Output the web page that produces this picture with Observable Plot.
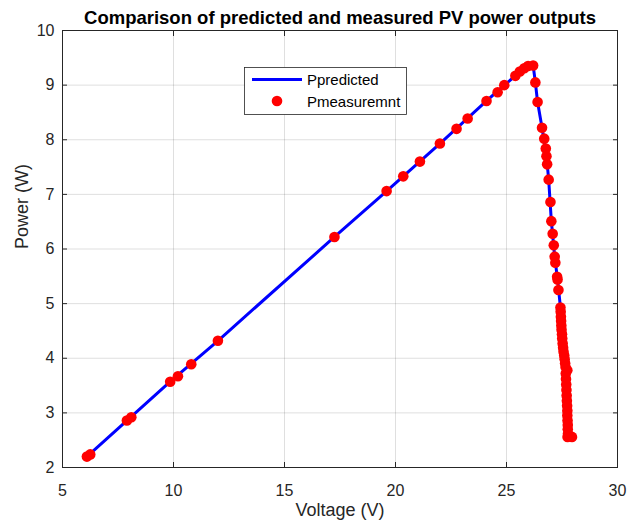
<!DOCTYPE html>
<html>
<head>
<meta charset="utf-8">
<script src="https://cdn.jsdelivr.net/npm/d3@7"></script>
<script src="https://cdn.jsdelivr.net/npm/@observablehq/plot@0.6"></script>
<style>
  html, body { margin: 0; padding: 0; background: #fff; }
  #chart { width: 628px; height: 524px; }
  svg { font-family: "Liberation Sans", Arial, Helvetica, sans-serif; }
</style>
</head>
<body>
<div id="chart"></div>
<script>
const titleText = "Comparison of predicted and measured PV power outputs";
const xLabel = "Voltage (V)";
const yLabel = "Power (W)";
const seriesNames = ["Ppredicted", "Pmeasuremnt"];
const xTicks = [5, 10, 15, 20, 25, 30];
const yTicks = [2, 3, 4, 5, 6, 7, 8, 9, 10];

// Predicted curve (blue line)
const predV = [6.10, 7.90, 9.85, 12.00, 17.25, 19.60, 22.00, 24.10, 24.90, 25.40, 25.80, 25.97, 26.20, 26.30, 26.40, 26.60, 26.80, 26.90, 27.02, 27.17, 27.30, 27.43, 27.55, 27.66, 27.70, 27.74, 27.77];
const predP = [2.20, 2.86, 3.57, 4.32, 6.22, 7.06, 7.93, 8.71, 9.00, 9.17, 9.31, 9.35, 9.36, 9.05, 8.69, 8.22, 7.70, 7.27, 6.51, 5.86, 5.44, 4.93, 4.19, 3.84, 3.42, 3.04, 2.55];

// Measured points (red dots)
const measV = [6.10, 6.25, 7.90, 8.10, 9.85, 10.20, 10.80, 12.00, 17.25, 19.60, 20.35, 21.10, 22.00, 22.75, 23.25, 24.10, 24.60, 24.90, 25.40, 25.60, 25.80, 25.97, 26.20,
  26.30, 26.40, 26.60, 26.70, 26.77, 26.80, 26.83, 26.90, 26.98, 27.02, 27.08, 27.13, 27.17, 27.20, 27.28, 27.30, 27.34, 27.43,
  27.44, 27.45, 27.46, 27.47, 27.48, 27.50, 27.51, 27.53, 27.55, 27.57, 27.60, 27.62, 27.64, 27.66, 27.74, 27.67, 27.68, 27.69, 27.70, 27.71, 27.72, 27.73, 27.74, 27.74, 27.75, 27.76, 27.76, 27.77, 27.75, 27.95];
const measP = [2.20, 2.24, 2.86, 2.92, 3.57, 3.67, 3.89, 4.32, 6.22, 7.06, 7.33, 7.60, 7.93, 8.20, 8.39, 8.71, 8.87, 9.00, 9.17, 9.25, 9.31, 9.35, 9.36,
  9.05, 8.69, 8.22, 8.02, 7.84, 7.70, 7.55, 7.27, 6.86, 6.51, 6.28, 6.07, 5.86, 5.75, 5.49, 5.44, 5.25, 4.93,
  4.85, 4.76, 4.68, 4.60, 4.52, 4.44, 4.36, 4.27, 4.19, 4.12, 4.05, 3.98, 3.91, 3.84, 3.78, 3.72, 3.62, 3.52, 3.42, 3.32, 3.22, 3.13, 3.04, 2.95, 2.86, 2.78, 2.70, 2.62, 2.56, 2.56];

const predicted = predV.map((v, i) => ({V: v, P: predP[i]}));
const measured = measV.map((v, i) => ({V: v, P: measP[i]}));

const ink = "#262626";
const font = "Liberation Sans, Arial, Helvetica, sans-serif";
const fmt = d => String(d);

const chart = Plot.plot({
  width: 628,
  height: 524,
  marginLeft: 62,
  marginRight: 11,
  marginTop: 30,
  marginBottom: 57,
  style: {fontFamily: font, color: ink, background: "#fff"},
  x: {domain: [5, 30]},
  y: {domain: [2, 10]},
  marks: [
    Plot.gridX(xTicks, {stroke: ink, strokeOpacity: 0.15}),
    Plot.gridY(yTicks, {stroke: ink, strokeOpacity: 0.15}),
    Plot.axisX(xTicks, {anchor: "bottom", tickSize: -5, tickPadding: 22, fontSize: 16, tickFormat: fmt, label: null, stroke: ink, fill: ink}),
    Plot.axisX(xTicks, {anchor: "top", tickSize: -5, tickFormat: () => "", label: null, stroke: ink}),
    Plot.axisY(yTicks, {anchor: "left", tickSize: -5, tickPadding: 13, fontSize: 16, tickFormat: fmt, label: null, stroke: ink, fill: ink}),
    Plot.axisY(yTicks, {anchor: "right", tickSize: -5, tickFormat: () => "", label: null, stroke: ink}),
    Plot.frame({stroke: ink}),
    Plot.line(predicted, {x: "V", y: "P", stroke: "#0000ff", strokeWidth: 3}),
    Plot.dot(measured, {x: "V", y: "P", r: 5.3, fill: "#ff0000", stroke: "none"}),
    Plot.text([titleText], {frameAnchor: "top", dy: -20, fontSize: 18.5, fontWeight: "bold", fill: "#000"}),
    Plot.text([xLabel], {frameAnchor: "bottom", dy: 48, fontSize: 18, fill: ink}),
    Plot.text([yLabel], {frameAnchor: "left", dx: -40, rotate: -90, fontSize: 18, fill: ink})
  ]
});

document.getElementById("chart").appendChild(chart);

// Legend (MATLAB style box)
const svg = d3.select(chart);
const lg = svg.append("g").attr("font-family", font).attr("font-size", 15).attr("text-anchor", "start");
lg.append("rect").attr("x", 244.5).attr("y", 67.5).attr("width", 162).attr("height", 47)
  .attr("fill", "#fff").attr("stroke", ink).attr("stroke-width", 0.8);
lg.append("line").attr("x1", 252).attr("x2", 302).attr("y1", 79.5).attr("y2", 79.5)
  .attr("stroke", "#0000ff").attr("stroke-width", 3);
lg.append("circle").attr("cx", 277).attr("cy", 101).attr("r", 5.3).attr("fill", "#ff0000");
lg.append("text").attr("x", 307).attr("y", 85).attr("fill", "#000").text(seriesNames[0]);
lg.append("text").attr("x", 307).attr("y", 106.5).attr("fill", "#000").text(seriesNames[1]);
</script>
</body>
</html>
